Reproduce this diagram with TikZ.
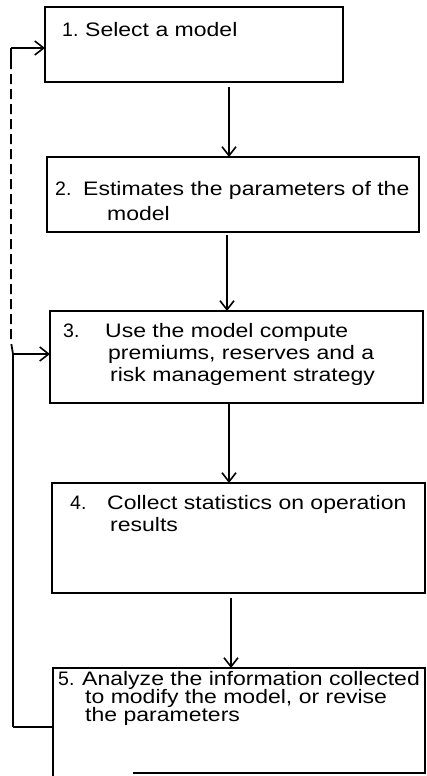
\documentclass[tikz,border=0pt]{standalone}
\usepackage{fontspec}
\setmainfont{Liberation Sans}[FakeStretch=1.18]
\newfontfamily\numfont{Liberation Sans}
\usetikzlibrary{arrows.meta}
\begin{document}
\begin{tikzpicture}[x=1pt,y=-1pt,
  box/.style={draw,line width=1.8pt,minimum width=#1,inner sep=0pt,outer sep=0pt},
  txt/.style={anchor=base west,inner sep=0pt,font=\fontsize{19.5}{21}\selectfont},
  num/.style={anchor=base west,inner sep=0pt,font=\fontsize{19.5}{21}\numfont},
  arr/.style={line width=1.3pt,-{Straight Barb[length=9pt,width=14pt,line width=1.6pt]}},
  fb/.style={line width=1.8pt},
  fbdash/.style={line width=1.8pt,dash pattern=on 10pt off 5pt}]
\useasboundingbox (0,0) rectangle (426,776);
% boxes
\node[box=298pt,minimum height=75pt] (b1) at (194,44.5) {};
\node[box=372pt,minimum height=75pt] (b2) at (233,194.5) {};
\node[box=373pt,minimum height=92pt] (b3) at (236.5,357) {};
\node[box=373pt,minimum height=110pt] (b4) at (238.5,538) {};
\node[box=372pt,minimum height=105pt,draw=none] (b5) at (239,720.5) {};
\draw[line width=1.8pt] ([yshift=-3pt]b5.south west) -- (b5.north west) -- (b5.north east) -- (b5.south east) -- ([xshift=80pt]b5.south west);
% texts
\node[num] (n1) at (62,37) {1.};
\node[txt] (t1) at (85,37) {Select a model};
\node[num] (n2) at (55,195) {2.};
\node[txt] (t2a) at (83,195) {Estimates the parameters of the};
\node[txt] (t2b) at (107,220) {model};
\node[num] (n3) at (63,337) {3.};
\node[txt] (t3a) at (105,337) {Use the model compute};
\node[txt] (t3b) at (108,359) {premiums, reserves and a};
\node[txt] (t3c) at (110,381) {risk management strategy};
\node[num] (n4) at (70,509) {4.};
\node[txt] (t4a) at (107,509) {Collect statistics on operation};
\node[txt] (t4b) at (110,531) {results};
\node[num] (n5) at (58,685) {5.};
\node[txt] (t5a) at (82,685) {Analyze the information collected};
\node[txt] (t5b) at (85,703) {to modify the model, or revise};
\node[txt] (t5c) at (85,721) {the parameters};
% main arrows
\draw[arr] ([xshift=35pt,yshift=-5pt]b1.south) -- ([xshift=35pt]b1.south |- b2.north);
\draw[arr] ([xshift=-6pt,yshift=-3pt]b2.south) -- ([xshift=-6pt]b2.south |- b3.north);
\draw[arr] ([xshift=-7.5pt]b3.south) -- ([xshift=-7.5pt]b3.south |- b4.north);
\draw[arr] ([xshift=-7.5pt,yshift=-5pt]b4.south) -- ([xshift=-7.5pt]b4.south |- b5.north);
% feedback
\coordinate (j) at (13,354);
\coordinate (t) at (11,48);
\draw[fb] (13,727) -- ([yshift=-6.5pt]b5.west);
\draw[fb] (13,727) -- (j);
\draw[arr,line width=1.6pt] (j) -- (b3.west |- j);
\draw[fbdash] (j) -- (t |- 0,342) -- (t |- 0,60);
\draw[fb] (t |- 0,60) -- (t);
\draw[arr,line width=1.6pt] (t) -- (b1.west |- t);
\end{tikzpicture}
\end{document}
